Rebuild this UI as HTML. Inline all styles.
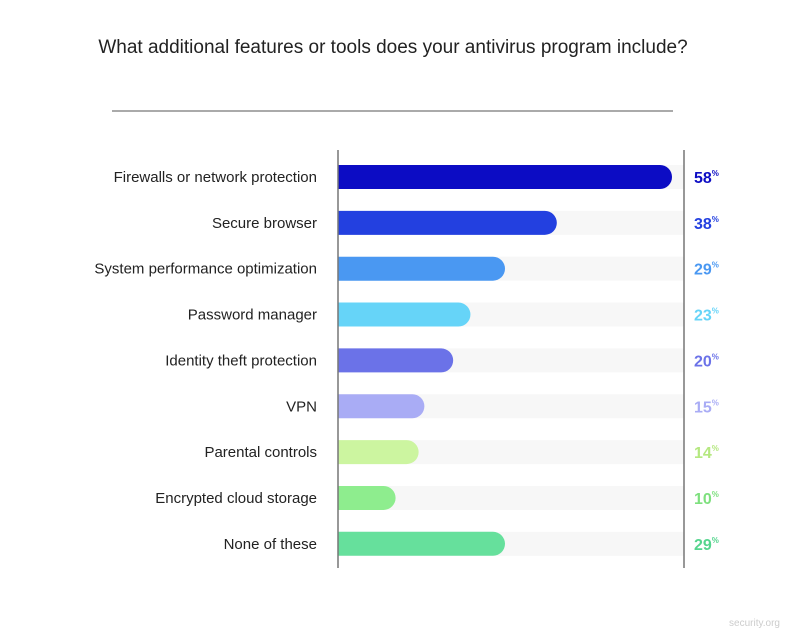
<!DOCTYPE html>
<html><head><meta charset="utf-8"><style>
body{margin:0;background:#fff;font-family:"Liberation Sans",sans-serif;}
#wrap{position:relative;width:786px;height:630px;overflow:hidden;}
</style></head><body>
<div id="wrap">
<svg width="786" height="630" id="chart">
<text x="393" y="53" text-anchor="middle" font-size="19" fill="#222" font-weight="500">What additional features or tools does your antivirus program include?</text>
<line x1="112" y1="111" x2="673" y2="111" stroke="#555" stroke-width="1"/>
<g id="bars"></g>
<line x1="338" y1="150" x2="338" y2="568" stroke="#777" stroke-width="1.5"/>
<line x1="684" y1="150" x2="684" y2="568" stroke="#777" stroke-width="1.5"/>
<text x="780" y="626" text-anchor="end" font-size="10" fill="#ccc">security.org</text>
</svg>
</div>
<script>
const categories=["Firewalls or network protection","Secure browser","System performance optimization","Password manager","Identity theft protection","VPN","Parental controls","Encrypted cloud storage","None of these"];
const values=[58,38,29,23,20,15,14,10,29];
const colors=["#0c0cc4","#2340e0","#4a98f2","#66d4f8","#6b72e8","#a9acf5","#ccf5a0","#8eed8e","#66e09c"];
const labelColors=["#0c0cc4","#2340e0","#4a98f2","#66d4f8","#6b72e8","#a9acf5","#b5e880","#7ee07e","#55d58e"];
const x0=338,xMax=684,pxPer=334/58;
const xScale=v=>x0+v*pxPer;
const yCenter=i=>177+i*45.85;
const bh=24;
const g=document.getElementById('bars');
const ns="http://www.w3.org/2000/svg";
categories.forEach((c,i)=>{
 const y=yCenter(i);
 const tr=document.createElementNS(ns,'rect');
 tr.setAttribute('x',x0);tr.setAttribute('y',y-bh/2);tr.setAttribute('width',xMax-x0);tr.setAttribute('height',bh);tr.setAttribute('fill','#f7f7f7');
 
 
 g.appendChild(tr);
 const w=xScale(values[i])-x0;
 const p=document.createElementNS(ns,'path');
 const r=bh/2;
 p.setAttribute('d',`M${x0},${y-r} H${x0+w-r} A${r},${r} 0 0 1 ${x0+w-r},${y+r} H${x0} Z`);
 p.setAttribute('fill',colors[i]);
 
 
 g.appendChild(p);
 const t=document.createElementNS(ns,'text');
 t.setAttribute('x',317);t.setAttribute('y',y+5);t.setAttribute('text-anchor','end');t.setAttribute('font-size','15');t.setAttribute('fill','#222');
 t.textContent=c;
 
 
 g.appendChild(t);
 const v=document.createElementNS(ns,'text');
 v.setAttribute('x',694);v.setAttribute('y',y+6);v.setAttribute('font-size','16');v.setAttribute('font-weight','bold');v.setAttribute('fill',labelColors[i]);
 v.innerHTML=values[i]+'<tspan font-size="8" dy="-7">%</tspan>';
 
 
 g.appendChild(v);
});
</script>
</body></html>
